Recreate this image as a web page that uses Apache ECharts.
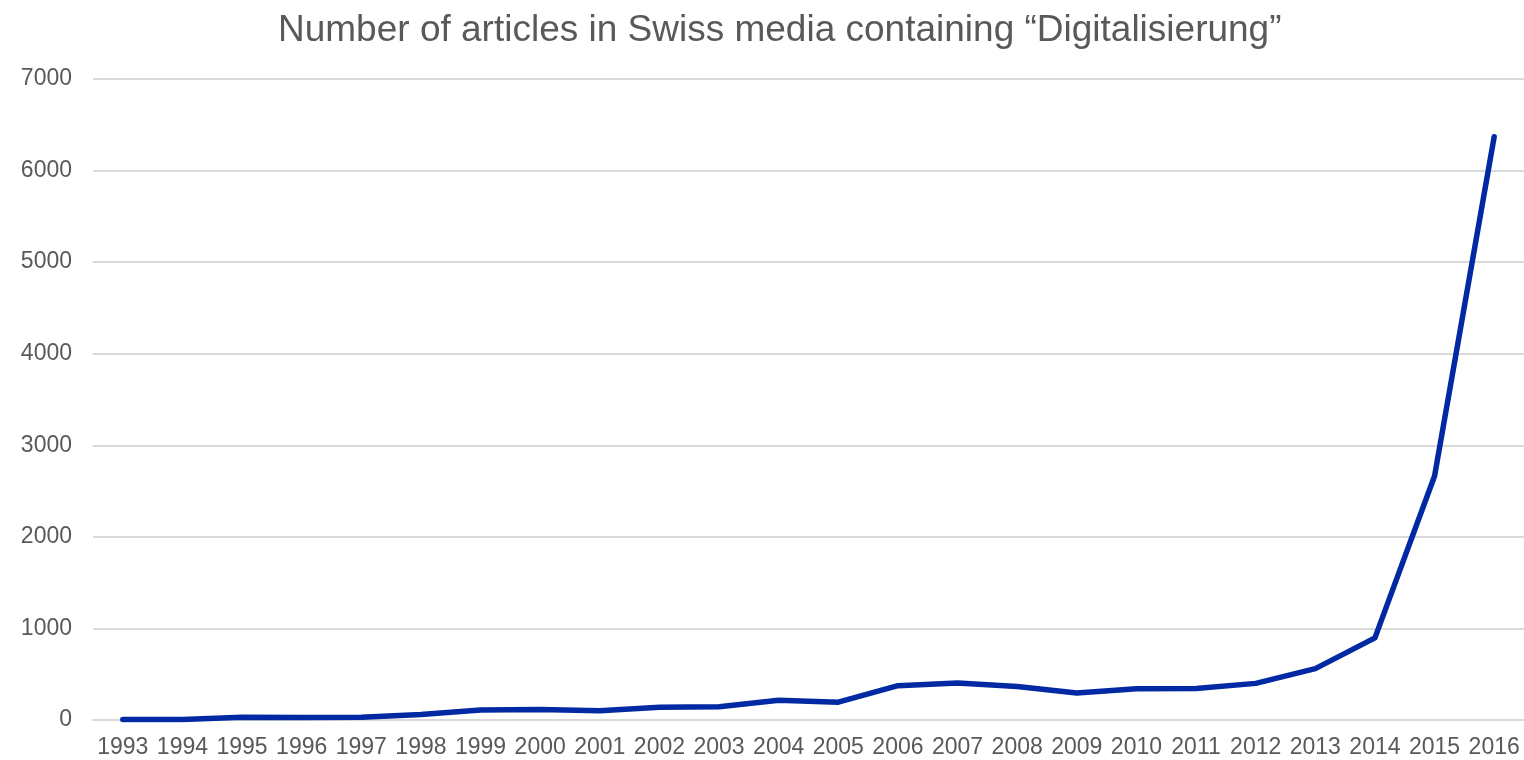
<!DOCTYPE html>
<html>
<head>
<meta charset="utf-8">
<script src="https://cdn.jsdelivr.net/npm/echarts@6/dist/echarts.min.js"></script>
<style>html,body{margin:0;padding:0;background:#fff}#c{width:1524px;height:760px}</style>
</head>
<body>
<div id="c"></div>
<script>
const years = ['1993','1994','1995','1996','1997','1998','1999','2000','2001','2002','2003','2004','2005','2006','2007','2008','2009','2010','2011','2012','2013','2014','2015','2016'];
const articles = [5, 5, 30, 28, 30, 60, 110, 115, 100, 140, 145, 215, 195, 375, 405, 365, 295, 340, 345, 400, 561, 897, 2664, 6369];
const titleText = 'Number of articles in Swiss media containing \u201cDigitalisierung\u201d';

const chart = echarts.init(document.getElementById('c'));
chart.setOption({
  animation: false,
  backgroundColor: '#ffffff',
  title: {
    text: titleText,
    left: 273,
    top: 7,
    textStyle: { fontFamily: 'Liberation Sans, Arial, sans-serif', fontSize: 37, fontWeight: 'normal', color: '#595959' }
  },
  grid: { left: 93, width: 1437, top: 79, bottom: 40, containLabel: false },
  xAxis: {
    type: 'category',
    data: years,
    boundaryGap: true,
    axisLine: { show: true, lineStyle: { color: '#d9d9d9', width: 2 } },
    axisTick: { show: false },
    axisLabel: { color: '#595959', fontSize: 23, fontFamily: 'Liberation Sans, Arial, sans-serif', margin: 16, interval: 0 },
    splitLine: { show: false }
  },
  yAxis: {
    type: 'value',
    min: 0, max: 7000, interval: 1000,
    axisLine: { show: false },
    axisTick: { show: false },
    axisLabel: { color: '#595959', fontSize: 23, fontFamily: 'Liberation Sans, Arial, sans-serif', margin: 21, formatter: function (v) { return String(v); } },
    splitLine: { lineStyle: { color: '#d9d9d9', width: 2 } }
  },
  series: [{
    type: 'line',
    data: articles,
    showSymbol: false,
    symbol: 'none',
    lineStyle: { color: '#0029A3', width: 5.5, cap: 'round', join: 'round' }
  }]
});
</script>
</body>
</html>
